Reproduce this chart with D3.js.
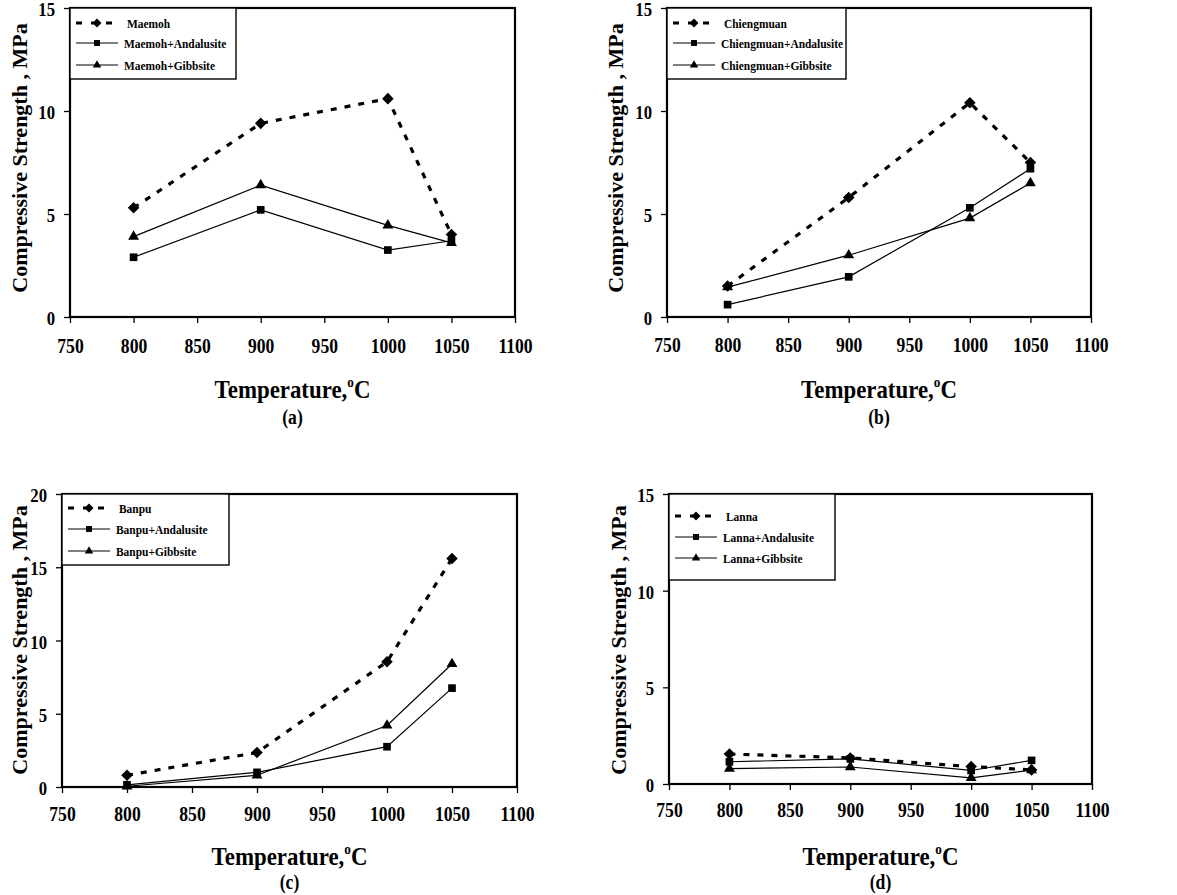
<!DOCTYPE html>
<html><head><meta charset="utf-8">
<script src="https://cdn.jsdelivr.net/npm/d3@7"></script>
<style>
html,body{margin:0;padding:0;background:#fff;}
svg{display:block;font-family:"Liberation Serif","Times New Roman",serif;font-weight:bold;}
svg text{font-family:"Liberation Serif","Times New Roman",serif;font-weight:bold;fill:#000;}
</style></head>
<body>
<svg id="chart" width="1177" height="895"></svg>
<script>
// ---- data ----
const temps = [800, 900, 1000, 1050];
const xTicks = [750, 800, 850, 900, 950, 1000, 1050, 1100];
const yTicks15 = [0, 5, 10, 15];
const yTicks20 = [0, 5, 10, 15, 20];

const panelNames = ["(a)", "(b)", "(c)", "(d)"];
const clayNames = ["Maemoh", "Chiengmuan", "Banpu", "Lanna"];
const additiveSuffixes = ["", "+Andalusite", "+Gibbsite"];

const maemoh = [5.3, 9.4, 10.6, 4.0];
const maemohAndalusite = [2.9, 5.2, 3.25, 3.7];
const maemohGibbsite = [3.9, 6.4, 4.45, 3.6];

const chiengmuan = [1.5, 5.8, 10.4, 7.5];
const chiengmuanAndalusite = [0.6, 1.95, 5.3, 7.2];
const chiengmuanGibbsite = [1.45, 3.0, 4.8, 6.5];

const banpu = [0.8, 2.35, 8.55, 15.6];
const banpuAndalusite = [0.15, 1.0, 2.75, 6.75];
const banpuGibbsite = [0.05, 0.8, 4.2, 8.4];

const lanna = [1.55, 1.35, 0.9, 0.73];
const lannaAndalusite = [1.15, 1.3, 0.7, 1.22];
const lannaGibbsite = [0.8, 0.88, 0.32, 0.72];

const panelSeries = [
  [maemoh, maemohAndalusite, maemohGibbsite],
  [chiengmuan, chiengmuanAndalusite, chiengmuanGibbsite],
  [banpu, banpuAndalusite, banpuGibbsite],
  [lanna, lannaAndalusite, lannaGibbsite]
];
const yMaxes = [15, 15, 20, 15];
const yTickSets = [yTicks15, yTicks15, yTicks20, yTicks15];

// ---- layout ----
const SX = 0.88; // horizontal condensation of the original typesetting
const layouts = [
  {left: 70,  right: 515,  top: 8,   bottom: 317, legW: 166, legH: 71, legRows: [23, 43, 65],    xPad: 16, ylabX: 19,  ylabY: 158, tempY: 398, capY: 424},
  {left: 667, right: 1091, top: 8,   bottom: 317, legW: 179, legH: 71, legRows: [23, 43, 65],    xPad: 15, ylabX: 615, ylabY: 158, tempY: 398, capY: 424},
  {left: 62,  right: 517,  top: 494, bottom: 787, legW: 167, legH: 71, legRows: [508, 529, 551], xPad: 14, ylabX: 19,  ylabY: 640, tempY: 865, capY: 889},
  {left: 669, right: 1092, top: 494, bottom: 784, legW: 166, legH: 86, legRows: [516, 537, 558], xPad: 13, ylabX: 618, ylabY: 640, tempY: 865, capY: 889}
];

const svg = d3.select("#chart");
const symbols = [d3.symbolDiamond2, d3.symbolSquare2, d3.symbolTriangle2];
const symSizes = [85, 75, 85];

layouts.forEach((L, i) => {
  const g = svg.append("g");
  const x = d3.scaleLinear().domain([750, 1100]).range([L.left, L.right]);
  const y = d3.scaleLinear().domain([0, yMaxes[i]]).range([L.bottom, L.top]);

  // x axis
  const xa = g.append("g").attr("transform", `translate(0,${L.bottom})`)
    .call(d3.axisBottom(x).tickValues(xTicks).tickSize(6).tickPadding(L.xPad).tickFormat(d3.format("d")));
  xa.attr("font-family", null).attr("font-size", null);
  xa.select(".domain").remove();
  xa.selectAll("line").attr("stroke", "#000").attr("stroke-width", 1.3);
  xa.selectAll("text").style("font-size", "20px").attr("transform", `scale(${SX},1)`);

  // y axis
  const ya = g.append("g").attr("transform", `translate(${L.left},0)`)
    .call(d3.axisLeft(y).tickValues(yTickSets[i]).tickSize(6).tickPadding(9));
  ya.attr("font-family", null).attr("font-size", null);
  ya.select(".domain").remove();
  ya.selectAll("line").attr("stroke", "#000").attr("stroke-width", 1.3);
  ya.selectAll("text").style("font-size", "19px").attr("dy", "0.4em")
    .attr("x", -15 / SX).attr("transform", `scale(${SX},1)`);

  // frame
  g.append("rect").attr("x", L.left).attr("y", L.top)
    .attr("width", L.right - L.left).attr("height", L.bottom - L.top)
    .attr("fill", "none").attr("stroke", "#000").attr("stroke-width", 2.2);

  // series
  const line = d3.line().x((d, k) => x(temps[k])).y(d => y(d));
  panelSeries[i].forEach((vals, s) => {
    g.append("path").datum(vals).attr("d", line).attr("fill", "none")
      .attr("stroke", "#000")
      .attr("stroke-width", s === 0 ? 3.2 : 1.2)
      .attr("stroke-dasharray", s === 0 ? "6,8" : null);
  });
  panelSeries[i].forEach((vals, s) => {
    g.selectAll(null).data(vals).enter().append("path")
      .attr("transform", (d, k) => `translate(${x(temps[k])},${y(d)})`)
      .attr("d", d3.symbol().type(symbols[s]).size(symSizes[s]))
      .attr("fill", "#000");
  });

  // legend
  g.append("rect").attr("x", L.left).attr("y", L.top)
    .attr("width", L.legW).attr("height", L.legH)
    .attr("fill", "#fff").attr("stroke", "#000").attr("stroke-width", 1.4);
  additiveSuffixes.forEach((suf, s) => {
    const ry = L.legRows[s];
    const x0 = L.left + 6, x1 = L.left + 48, xm = L.left + 27;
    g.append("line").attr("x1", x0).attr("x2", x1).attr("y1", ry).attr("y2", ry)
      .attr("stroke", "#000")
      .attr("stroke-width", s === 0 ? 3 : 1.2)
      .attr("stroke-dasharray", s === 0 ? "6,9" : null);
    g.append("path").attr("transform", `translate(${xm},${ry})`)
      .attr("d", d3.symbol().type(symbols[s]).size(symSizes[s] * 0.6)).attr("fill", "#000");
    g.append("text")
      .attr("transform", `translate(${L.left + (s === 0 ? 57 : 54)},${ry}) scale(${SX},1)`)
      .attr("dy", "0.35em").style("font-size", "13px").text(clayNames[i] + suf);
  });

  // y label
  g.append("text").attr("transform", `translate(${L.ylabX},${L.ylabY}) rotate(-90)`)
    .attr("text-anchor", "middle").attr("dy", "0.35em").style("font-size", "22px")
    .text("Compressive Strength , MPa");

  // x label
  const cx = (L.left + L.right) / 2;
  const t = g.append("text").attr("transform", `translate(${cx},${L.tempY}) scale(${SX},1)`)
    .attr("text-anchor", "middle").style("font-size", "26px");
  t.append("tspan").text("Temperature,");
  t.append("tspan").style("font-size", "15px").attr("dy", "-11").text("o");
  t.append("tspan").attr("dy", "11").text("C");

  // caption
  g.append("text").attr("transform", `translate(${cx},${L.capY}) scale(${SX},1)`)
    .attr("text-anchor", "middle").style("font-size", "20px").text(panelNames[i]);
});
</script>
</body></html>
